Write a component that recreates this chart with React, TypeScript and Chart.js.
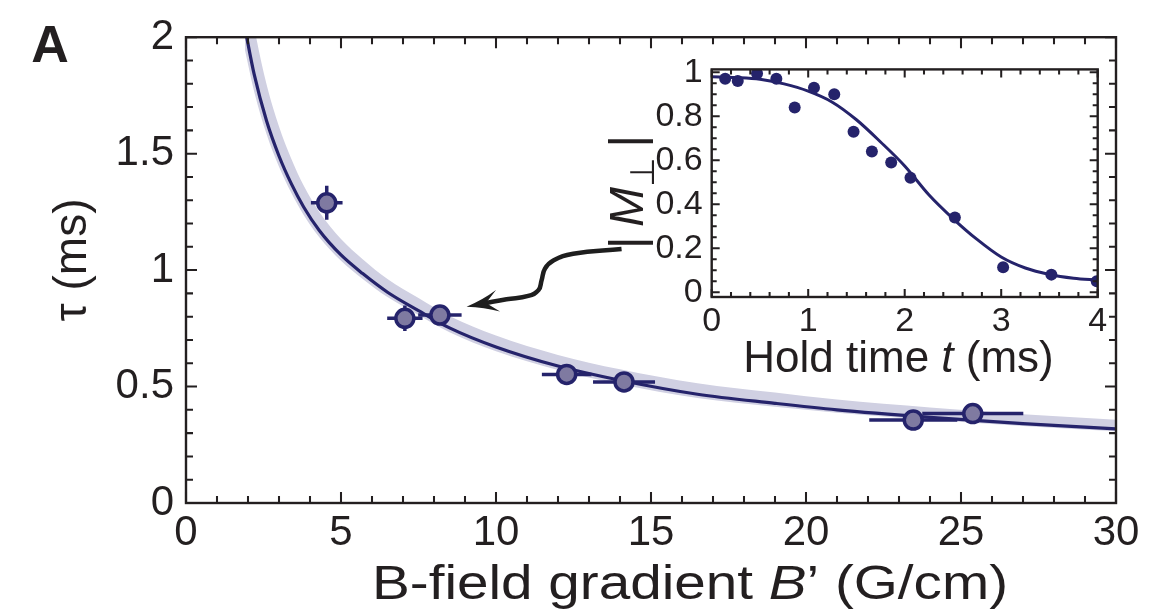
import React, { useEffect, useRef } from "react";
import { Chart, registerables } from "chart.js";

Chart.register(...registerables);

const FONT = '"Liberation Sans", Arial, Helvetica, sans-serif';
const INK = "#231f20";
const NAVY = "#25236b";
const MARKER_FILL = "#7f7aa1";
const BAND = "#d0d0e2";

// ---------- Main panel: tau vs B-field gradient ----------
const gradientB = [4.54, 7.06, 8.19, 12.28, 14.13, 23.46, 25.38];
const tauMs = [1.289, 0.793, 0.807, 0.552, 0.52, 0.356, 0.384];
const gradientErr = [0.51, 0.57, 0.7, 0.8, 1.0, 1.42, 1.63];
const tauErr = [0.073, 0.055, 0.0, 0.0, 0.0, 0.0, 0.0];

const fitB = [1.9, 2.2, 2.6, 3.0, 3.4, 3.8, 4.3, 5.0, 5.7, 6.5, 7.5, 8.5, 10, 12, 14, 16.5, 19, 21, 24, 27, 30];
const fitTau = [2.04, 1.84, 1.64, 1.49, 1.37, 1.27, 1.17, 1.065, 0.985, 0.905, 0.826, 0.752, 0.67, 0.588, 0.527, 0.467, 0.428, 0.4, 0.368, 0.341, 0.318];
const bandUpper = [2.3, 2.045, 1.797, 1.617, 1.477, 1.362, 1.25, 1.134, 1.047, 0.962, 0.88, 0.803, 0.719, 0.636, 0.574, 0.514, 0.474, 0.444, 0.41, 0.381, 0.357];
const bandLower = [1.946, 1.766, 1.583, 1.444, 1.331, 1.236, 1.141, 1.04, 0.962, 0.884, 0.807, 0.733, 0.652, 0.571, 0.51, 0.451, 0.413, 0.388, 0.357, 0.331, 0.308];

const arrowX = [14.05, 12.49, 11.85, 11.58, 11.47, 11.37, 11.04, 10.34, 9.59];
const arrowY = [1.091, 1.07, 1.041, 1.006, 0.956, 0.914, 0.889, 0.875, 0.857];
const arrowTip = [9.05, 0.843];

const mainXTicks = [0, 5, 10, 15, 20, 25, 30];
const mainYTicks = [0, 0.5, 1, 1.5, 2];

// ---------- Inset: |M_perp| vs hold time ----------
const holdTime = [0.14, 0.27, 0.47, 0.67, 0.86, 1.06, 1.27, 1.47, 1.66, 1.86, 2.06, 2.52, 3.02, 3.52, 3.99];
const magnetization = [0.97, 0.96, 0.994, 0.97, 0.84, 0.93, 0.9, 0.73, 0.64, 0.59, 0.52, 0.34, 0.114, 0.08, 0.05];
const fitT = [0, 0.25, 0.5, 0.75, 1.0, 1.25, 1.5, 1.75, 2.0, 2.25, 2.5, 2.75, 3.0, 3.25, 3.5, 3.75, 4.0];
const fitM = [0.98, 0.976, 0.968, 0.947, 0.914, 0.864, 0.784, 0.683, 0.574, 0.443, 0.335, 0.24, 0.16, 0.11, 0.081, 0.064, 0.055];

const insetXTicks = [0, 1, 2, 3, 4];
const insetYTicks = [0, 0.2, 0.4, 0.6, 0.8, 1];

const zip = (xs: number[], ys: number[]) => xs.map((x, i) => ({ x, y: ys[i] }));

type Seg = { text: string; italic?: boolean; scale?: number; dy?: number };

function drawRich(
  ctx: CanvasRenderingContext2D,
  segs: Seg[],
  cx: number,
  cy: number,
  size: number,
  rotate: boolean,
  targetWidth?: number
) {
  ctx.save();
  ctx.translate(cx, cy);
  if (rotate) ctx.rotate(-Math.PI / 2);
  const fontFor = (s: Seg) => `${s.italic ? "italic " : ""}${Math.round(size * (s.scale || 1))}px ${FONT}`;
  let total = 0;
  const widths = segs.map((s) => {
    ctx.font = fontFor(s);
    const w = ctx.measureText(s.text).width;
    total += w;
    return w;
  });
  if (targetWidth) ctx.scale(targetWidth / total, 1);
  let x = -total / 2;
  ctx.fillStyle = INK;
  ctx.textAlign = "left";
  ctx.textBaseline = "alphabetic";
  const base = size * 0.358;
  segs.forEach((s, i) => {
    ctx.font = fontFor(s);
    ctx.fillText(s.text, x, base + (s.dy || 0) * size);
    x += widths[i];
  });
  ctx.restore();
}

function framePlugin(cfg: { xMinor: number; xMajor: number; yMinor: number; yMajor: number; majorLen: number; minorLen: number; lw: number }) {
  return {
    id: "frameTicks",
    afterDatasetsDraw(chart: any) {
      const { ctx, chartArea: a, scales } = chart;
      const xs = scales.x;
      const ys = scales.y;
      ctx.save();
      ctx.strokeStyle = INK;
      ctx.lineWidth = cfg.lw * 0.85;
      const isMajor = (v: number, step: number) => Math.abs(v / step - Math.round(v / step)) < 1e-6;
      const start = (min: number, step: number) => Math.ceil(min / step - 1e-9);
      for (let k = start(xs.min, cfg.xMinor); k * cfg.xMinor <= xs.max + 1e-9; k++) {
        const v = k * cfg.xMinor;
        const len = isMajor(v, cfg.xMajor) ? cfg.majorLen : cfg.minorLen;
        const px = xs.getPixelForValue(v);
        ctx.beginPath();
        ctx.moveTo(px, a.bottom);
        ctx.lineTo(px, a.bottom - len);
        ctx.moveTo(px, a.top);
        ctx.lineTo(px, a.top + len);
        ctx.stroke();
      }
      for (let k = start(ys.min, cfg.yMinor); k * cfg.yMinor <= ys.max + 1e-9; k++) {
        const v = k * cfg.yMinor;
        const len = isMajor(v, cfg.yMajor) ? cfg.majorLen : cfg.minorLen;
        const py = ys.getPixelForValue(v);
        ctx.beginPath();
        ctx.moveTo(a.left, py);
        ctx.lineTo(a.left + len, py);
        ctx.moveTo(a.right, py);
        ctx.lineTo(a.right - len, py);
        ctx.stroke();
      }
      ctx.lineWidth = cfg.lw;
      ctx.strokeRect(a.left, a.top, a.right - a.left, a.bottom - a.top);
      ctx.restore();
    },
  };
}

const errorBarPlugin = {
  id: "errorBars",
  beforeDatasetDraw(chart: any, args: any) {
    if (args.index !== 0) return;
    const { ctx, scales } = chart;
    ctx.save();
    ctx.strokeStyle = NAVY;
    ctx.lineWidth = 3.5;
    gradientB.forEach((b, i) => {
      const t = tauMs[i];
      const y = scales.y.getPixelForValue(t);
      const x = scales.x.getPixelForValue(b);
      ctx.beginPath();
      ctx.moveTo(scales.x.getPixelForValue(b - gradientErr[i]), y);
      ctx.lineTo(scales.x.getPixelForValue(b + gradientErr[i]), y);
      if (tauErr[i] > 0) {
        ctx.moveTo(x, scales.y.getPixelForValue(t - tauErr[i]));
        ctx.lineTo(x, scales.y.getPixelForValue(t + tauErr[i]));
      }
      ctx.stroke();
    });
    ctx.restore();
  },
};

const arrowHeadPlugin = {
  id: "arrowHead",
  afterDatasetsDraw(chart: any) {
    const { ctx, scales } = chart;
    const tx = scales.x.getPixelForValue(arrowTip[0]);
    const ty = scales.y.getPixelForValue(arrowTip[1]);
    const n = arrowX.length;
    const bx = scales.x.getPixelForValue(arrowX[n - 2]);
    const by = scales.y.getPixelForValue(arrowY[n - 2]);
    const ang = Math.atan2(ty - by, tx - bx);
    const L = 32;
    const W = 11;
    ctx.save();
    ctx.translate(tx, ty);
    ctx.rotate(ang);
    ctx.fillStyle = "#1e1e1e";
    ctx.beginPath();
    ctx.moveTo(0, 0);
    ctx.quadraticCurveTo(-L * 0.55, -W * 0.35, -L, -W);
    ctx.lineTo(-L * 0.62, 0);
    ctx.lineTo(-L, W);
    ctx.quadraticCurveTo(-L * 0.55, W * 0.35, 0, 0);
    ctx.closePath();
    ctx.fill();
    ctx.restore();
  },
};

const mainTitlePlugin = {
  id: "mainTitles",
  afterDraw(chart: any) {
    const ctx = chart.ctx;
    ctx.save();
    ctx.fillStyle = INK;
    ctx.font = `bold 52px ${FONT}`;
    ctx.textAlign = "center";
    ctx.textBaseline = "alphabetic";
    ctx.fillText("A", 50, 62);
    ctx.restore();
    drawRich(ctx, [{ text: "τ (ms)" }], 70, 260, 46, true);
    drawRich(
      ctx,
      [{ text: "B-field gradient " }, { text: "B", italic: true }, { text: "’ (G/cm)" }],
      690,
      582,
      48,
      false,
      636
    );
  },
};

const insetTitlePlugin = {
  id: "insetTitles",
  afterDraw(chart: any) {
    const ctx = chart.ctx;
    drawRich(ctx, [{ text: "Hold time " }, { text: "t", italic: true }, { text: " (ms)" }], 318.5, 316.5, 44, false);
    drawRich(
      ctx,
      [{ text: "|\u2009" }, { text: "M", italic: true }, { text: "⊥", scale: 0.7, dy: 0.22 }, { text: "\u2009|" }],
      46,
      152,
      48,
      true
    );
  },
};

const tickFont = (size: number) => ({ family: FONT, size });
const plainLabel = (v: any) => `${Number(v)}`;

function MainChart() {
  const ref = useRef<HTMLCanvasElement | null>(null);
  useEffect(() => {
    if (!ref.current) return;
    const chart = new Chart(ref.current, {
      type: "line",
      data: {
        datasets: [
          {
            type: "scatter",
            data: zip(gradientB, tauMs),
            pointRadius: 9,
            pointBackgroundColor: MARKER_FILL,
            pointBorderColor: NAVY,
            pointBorderWidth: 3.5,
            showLine: false,
            clip: false,
          } as any,
          {
            data: zip(fitB, fitTau),
            borderColor: NAVY,
            borderWidth: 3.2,
            pointRadius: 0,
            cubicInterpolationMode: "monotone",
            fill: false,
          },
          {
            data: zip(arrowX, arrowY),
            borderColor: "#1e1e1e",
            borderWidth: 4.5,
            pointRadius: 0,
            tension: 0.45,
            fill: false,
            clip: false,
          } as any,
          {
            data: zip(fitB, bandUpper),
            borderWidth: 0,
            borderColor: "rgba(0,0,0,0)",
            backgroundColor: BAND,
            pointRadius: 0,
            cubicInterpolationMode: "monotone",
            fill: "+1",
          },
          {
            data: zip(fitB, bandLower),
            borderWidth: 0,
            borderColor: "rgba(0,0,0,0)",
            pointRadius: 0,
            cubicInterpolationMode: "monotone",
            fill: false,
          },
        ],
      },
      options: {
        responsive: false,
        animation: false,
        events: [],
        layout: { padding: { top: 33, right: 58, left: 0, bottom: 0 } },
        plugins: { legend: { display: false }, tooltip: { enabled: false }, title: { display: false } },
        scales: {
          x: {
            type: "linear",
            min: 0,
            max: 30,
            grid: { display: false, drawTicks: false },
            border: { display: false },
            ticks: { font: tickFont(42), color: INK, padding: 5, maxRotation: 0, autoSkip: false, callback: plainLabel },
            afterBuildTicks: (s: any) => {
              s.ticks = mainXTicks.map((v) => ({ value: v }));
            },
            afterFit: (s: any) => {
              s.height = 110;
            },
          },
          y: {
            type: "linear",
            min: 0,
            max: 2,
            grid: { display: false, drawTicks: false },
            border: { display: false },
            ticks: { font: tickFont(42), color: INK, padding: 12, autoSkip: false, callback: plainLabel },
            afterBuildTicks: (s: any) => {
              s.ticks = mainYTicks.map((v) => ({ value: v }));
            },
            afterFit: (s: any) => {
              s.width = 186;
            },
          },
        },
      } as any,
      plugins: [
        errorBarPlugin,
        arrowHeadPlugin,
        framePlugin({ xMinor: 1, xMajor: 5, yMinor: 0.1, yMajor: 0.5, majorLen: 11, minorLen: 7, lw: 2.4 }),
        mainTitlePlugin,
      ],
    });
    return () => chart.destroy();
  }, []);
  return <canvas ref={ref} width={1174} height={613} style={{ position: "absolute", left: 0, top: 0 }} />;
}

function InsetChart() {
  const ref = useRef<HTMLCanvasElement | null>(null);
  useEffect(() => {
    if (!ref.current) return;
    const chart = new Chart(ref.current, {
      type: "line",
      data: {
        datasets: [
          {
            type: "scatter",
            data: zip(holdTime, magnetization),
            pointRadius: 6,
            pointBackgroundColor: NAVY,
            pointBorderColor: NAVY,
            pointBorderWidth: 0,
            showLine: false,
            clip: 0,
          } as any,
          {
            data: zip(fitT, fitM),
            borderColor: NAVY,
            borderWidth: 3,
            pointRadius: 0,
            cubicInterpolationMode: "monotone",
            fill: false,
          },
        ],
      },
      options: {
        responsive: false,
        animation: false,
        events: [],
        layout: { padding: { top: 19, right: 22.3, left: 0, bottom: 0 } },
        plugins: { legend: { display: false }, tooltip: { enabled: false }, title: { display: false } },
        scales: {
          x: {
            type: "linear",
            min: 0,
            max: 4,
            grid: { display: false, drawTicks: false },
            border: { display: false },
            ticks: { font: tickFont(34), color: INK, padding: 4, maxRotation: 0, autoSkip: false, callback: plainLabel },
            afterBuildTicks: (s: any) => {
              s.ticks = insetXTicks.map((v) => ({ value: v }));
            },
            afterFit: (s: any) => {
              s.height = 93;
            },
          },
          y: {
            type: "linear",
            min: -0.0217,
            max: 1.013,
            grid: { display: false, drawTicks: false },
            border: { display: false },
            ticks: { font: tickFont(34), color: INK, padding: 9, autoSkip: false, callback: plainLabel },
            afterBuildTicks: (s: any) => {
              s.ticks = insetYTicks.map((v) => ({ value: v }));
            },
            afterFit: (s: any) => {
              s.width = 131.7;
            },
          },
        },
      } as any,
      plugins: [
        framePlugin({ xMinor: 0.2, xMajor: 1, yMinor: 0.05, yMajor: 0.2, majorLen: 8, minorLen: 5, lw: 2.4 }),
        insetTitlePlugin,
      ],
    });
    return () => chart.destroy();
  }, []);
  return <canvas ref={ref} width={540} height={350} style={{ position: "absolute", left: 580, top: 40 }} />;
}

export default function App() {
  return (
    <div style={{ position: "absolute", left: 0, top: 0, width: 1174, height: 613, background: "#ffffff", overflow: "hidden" }}>
      <MainChart />
      <InsetChart />
    </div>
  );
}
